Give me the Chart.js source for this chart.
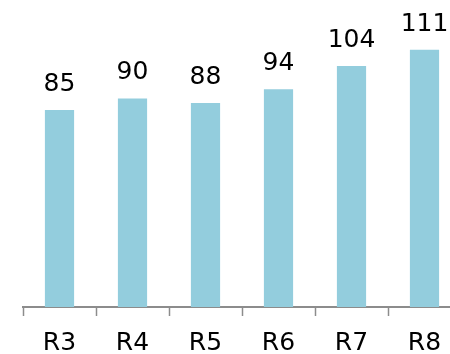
<!DOCTYPE html>
<html>
<head>
<meta charset="utf-8">
<script src="https://cdn.jsdelivr.net/npm/chart.js@4/dist/chart.umd.min.js"></script>
<style>
  html, body { margin: 0; padding: 0; background: #fff; overflow: hidden; }
  /* the plot runs a little past the right and bottom edges of the window */
  .chart { position: relative; width: 470px; height: 370px; }
</style>
</head>
<body>
<div class="chart"><canvas id="myChart"></canvas></div>
<script>
const rounds = ['R3', 'R4', 'R5', 'R6', 'R7', 'R8'];
const values = [85, 90, 88, 94, 104, 111];

const barColor = '#93CDDD';
const axisColor = '#8C8C8C';
const fontFamily = '"DejaVu Sans", Verdana, sans-serif';

// value above each bar
const valueLabels = {
  id: 'valueLabels',
  afterDatasetsDraw(chart) {
    const { ctx } = chart;
    const meta = chart.getDatasetMeta(0);
    ctx.save();
    ctx.font = `25px ${fontFamily}`;
    ctx.fillStyle = '#000';
    ctx.textAlign = 'center';
    ctx.textBaseline = 'alphabetic';
    meta.data.forEach((bar, i) => {
      ctx.fillText(String(values[i]), bar.x, bar.y - 19);
    });
    ctx.restore();
  },
};

const ctx = document.getElementById('myChart').getContext('2d');
const chart = new Chart(ctx, {
  type: 'bar',
  data: {
    labels: rounds,
    datasets: [
      {
        data: values,
        backgroundColor: barColor,
        borderWidth: 0,
        categoryPercentage: 1,
        barPercentage: 0.4,
      },
    ],
  },
  options: {
    responsive: true,
    maintainAspectRatio: false,
    animation: false,
    layout: { padding: { left: 23, right: 9, top: 0, bottom: 0 } },
    plugins: {
      legend: { display: false },
      tooltip: { enabled: false },
    },
    scales: {
      x: {
        grid: {
          display: true,
          offset: true,
          drawOnChartArea: false,
          drawTicks: true,
          tickLength: 9,
          tickColor: axisColor,
          tickWidth: 1.5,
        },
        border: { display: true, color: axisColor, width: 2 },
        ticks: {
          color: '#000',
          padding: 12,
          font: { family: fontFamily, size: 25 },
        },
      },
      y: {
        display: false,
        min: 0,
        max: 132.5,
      },
    },
  },
  plugins: [valueLabels],
});
</script>
</body>
</html>
